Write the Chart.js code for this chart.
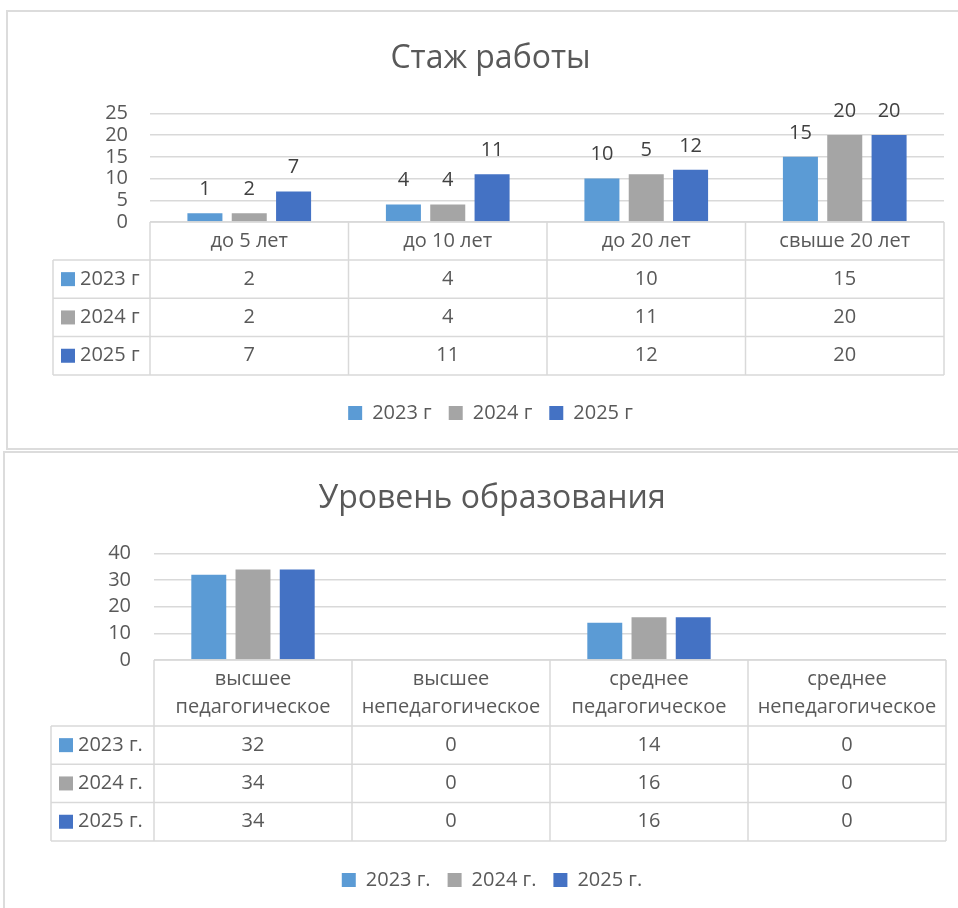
<!DOCTYPE html>
<html>
<head>
<meta charset="utf-8">
<script src="https://cdn.jsdelivr.net/npm/chart.js@4.4.1/dist/chart.umd.min.js"></script>
<style>
  html, body { margin: 0; padding: 0; background: #fff; width: 958px; height: 908px; overflow: hidden; }
  .box { position: absolute; border: 2px solid #dcdcdc; box-sizing: border-box; }
  #box1 { left: 6px; top: 10px; width: 990px; height: 440px; }
  #box2 { left: 3px; top: 451px; width: 990px; height: 480px; }
  canvas { position: absolute; }
  #c1 { left: 7px; top: 11px; }
  #c2 { left: 4px; top: 452px; }
</style>
</head>
<body>
<div class="box" id="box1"></div>
<div class="box" id="box2"></div>
<canvas id="c1" width="951" height="438"></canvas>
<canvas id="c2" width="954" height="456"></canvas>
<script>
// Стаж работы
const stazhCategories = ['до 5 лет', 'до 10 лет', 'до 20 лет', 'свыше 20 лет'];
const stazhSeries = ['2023 г', '2024 г', '2025 г'];
const stazh2023 = [2, 4, 10, 15];
const stazh2024 = [2, 4, 11, 20];
const stazh2025 = [7, 11, 12, 20];
// подписи над столбцами (как на исходной диаграмме)
const stazhLabels2023 = [1, 4, 10, 15];
const stazhLabels2024 = [2, 4, 5, 20];
const stazhLabels2025 = [7, 11, 12, 20];
const stazhTicks = { min: 0, max: 25, step: 5 };

// Уровень образования
const eduCategories = [
  ['высшее', 'педагогическое'],
  ['высшее', 'непедагогическое'],
  ['среднее', 'педагогическое'],
  ['среднее', 'непедагогическое']
];
const eduSeries = ['2023 г.', '2024 г.', '2025 г.'];
const edu2023 = [32, 0, 14, 0];
const edu2024 = [34, 0, 16, 0];
const edu2025 = [34, 0, 16, 0];
const eduTicks = { min: 0, max: 40, step: 10 };

const colors = ['#5B9BD5', '#A5A5A5', '#4472C4'];
const FONT = "'Open Sans', sans-serif";
const FSIZE = 20;
const TEXT = '#595959';
const GRID = '#d9d9d9';

// таблица данных под осью
const dataTablePlugin = {
  id: 'dataTable',
  afterDraw(chart, args, opts) {
    const { ctx, chartArea } = chart;
    const xs = chart.scales.x;
    const n = chart.data.labels.length;
    const half = (xs.getPixelForValue(1) - xs.getPixelForValue(0)) / 2;
    const top = chartArea.bottom;
    const headBottom = top + opts.headerHeight;
    const sets = chart.data.datasets;
    const bottom = headBottom + sets.length * opts.rowHeight;

    ctx.save();
    ctx.strokeStyle = GRID;
    ctx.lineWidth = 1.5;
    const line = (x1, y1, x2, y2) => {
      ctx.beginPath();
      ctx.moveTo(x1, y1);
      ctx.lineTo(x2, y2);
      ctx.stroke();
    };
    line(chartArea.left, top, chartArea.right, top);
    for (let r = 0; r <= sets.length; r++) {
      const y = headBottom + r * opts.rowHeight;
      line(opts.left, y, chartArea.right, y);
    }
    line(opts.left, headBottom, opts.left, bottom);
    for (let i = 0; i <= n; i++) {
      const x = i < n ? xs.getPixelForValue(i) - half : xs.getPixelForValue(n - 1) + half;
      line(x, top, x, bottom);
    }

    ctx.font = FSIZE + 'px ' + FONT;
    ctx.textBaseline = 'middle';
    ctx.textAlign = 'center';
    ctx.fillStyle = TEXT;
    chart.data.labels.forEach((lab, i) => {
      const lines = Array.isArray(lab) ? lab : [lab];
      const cx = xs.getPixelForValue(i);
      const y0 = top + opts.headerHeight / 2 - (lines.length - 1) * opts.lineHeight / 2;
      lines.forEach((t, k) => ctx.fillText(t, cx, y0 + k * opts.lineHeight));
    });

    sets.forEach((ds, r) => {
      const cy = headBottom + (r + 0.5) * opts.rowHeight;
      ctx.fillStyle = TEXT;
      ctx.textAlign = 'center';
      ds.data.forEach((v, i) => ctx.fillText(String(v), xs.getPixelForValue(i), cy));
      ctx.fillStyle = ds.backgroundColor;
      ctx.fillRect(opts.left + 8, cy - 7, 14, 14);
      ctx.fillStyle = TEXT;
      ctx.textAlign = 'left';
      ctx.fillText(ds.label, opts.left + 27, cy);
    });
    ctx.restore();
  }
};

// подписи над столбцами
const barLabelPlugin = {
  id: 'barLabels',
  afterDatasetsDraw(chart, args, opts) {
    if (!opts.texts) return;
    const ctx = chart.ctx;
    ctx.save();
    ctx.font = FSIZE + 'px ' + FONT;
    ctx.fillStyle = '#404040';
    ctx.textAlign = 'center';
    ctx.textBaseline = 'middle';
    chart.data.datasets.forEach((ds, d) => {
      chart.getDatasetMeta(d).data.forEach((bar, i) => {
        ctx.fillText(String(opts.texts[d][i]), bar.x, bar.y - 24);
      });
    });
    ctx.restore();
  }
};

function buildChart(id, cfg) {
  return new Chart(document.getElementById(id), {
    type: 'bar',
    data: {
      labels: cfg.categories,
      datasets: cfg.series.map((name, i) => ({
        label: name,
        data: cfg.values[i],
        backgroundColor: colors[i],
        barPercentage: 0.79,
        categoryPercentage: 0.67
      }))
    },
    options: {
      responsive: false,
      animation: false,
      layout: { padding: { left: cfg.padLeft, right: 0, top: 0, bottom: cfg.padBottom } },
      scales: {
        x: {
          ticks: { display: false },
          grid: { display: false },
          border: { display: false },
          afterFit: s => { s.height = cfg.axisHeight; }
        },
        y: {
          min: cfg.ticks.min,
          max: cfg.ticks.max,
          ticks: {
            stepSize: cfg.ticks.step, autoSkip: false,
            color: TEXT, font: { family: FONT, size: FSIZE }, padding: cfg.tickPad
          },
          grid: { color: GRID, lineWidth: 1.5, drawTicks: false },
          border: { display: false },
          afterFit: s => { s.width = cfg.yWidth; }
        },
        // пустая правая ось — только отступ справа
        yRight: {
          position: 'right',
          ticks: { display: false },
          grid: { display: false },
          border: { display: false },
          afterFit: s => { s.width = cfg.rightGap; }
        }
      },
      plugins: {
        title: {
          display: true,
          text: cfg.title,
          color: TEXT,
          font: { family: FONT, size: 32, weight: 'normal' },
          padding: cfg.titlePad
        },
        legend: {
          position: 'bottom',
          labels: { boxWidth: 14, boxHeight: 14, color: TEXT, font: { family: FONT, size: FSIZE }, padding: 17 }
        },
        tooltip: { enabled: false },
        dataTable: cfg.table,
        barLabels: { texts: cfg.labelTexts }
      }
    },
    plugins: [dataTablePlugin, barLabelPlugin]
  });
}

buildChart('c1', {
  title: 'Стаж работы',
  categories: stazhCategories,
  series: stazhSeries,
  values: [stazh2023, stazh2024, stazh2025],
  labelTexts: [stazhLabels2023, stazhLabels2024, stazhLabels2025],
  ticks: stazhTicks,
  padLeft: 16,
  rightGap: 14,
  padBottom: 16,
  axisHeight: 164,
  yWidth: 127,
  tickPad: 22,
  titlePad: { top: 29, bottom: 35 },
  table: { left: 46, headerHeight: 38, rowHeight: 38.3, lineHeight: 28 }
});

buildChart('c2', {
  title: 'Уровень образования',
  categories: eduCategories,
  series: eduSeries,
  values: [edu2023, edu2024, edu2025],
  labelTexts: null,
  ticks: eduTicks,
  padLeft: 22,
  rightGap: 12,
  padBottom: 8,
  axisHeight: 193,
  yWidth: 128,
  tickPad: 23,
  titlePad: { top: 28, bottom: 35 },
  table: { left: 47, headerHeight: 66, rowHeight: 38.3, lineHeight: 28 }
});
</script>
</body>
</html>
